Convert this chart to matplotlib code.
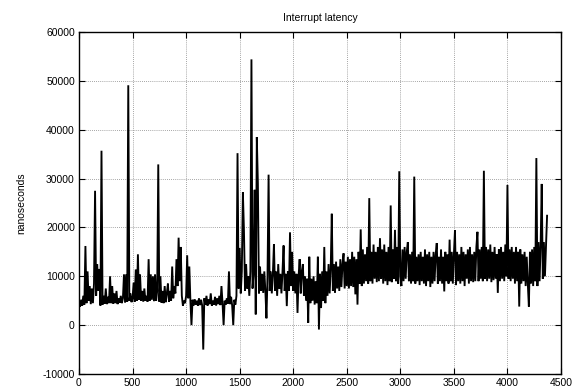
import numpy as np
import matplotlib
matplotlib.use("Agg")
import matplotlib.pyplot as plt

# latency samples (thousands of ns), one every 10 samples
seg_a = [4.5, 3.8, 5.2, 4.0, 6.0, 4.2, 16.2, 4.5, 11.0, 5.0,
         8.0, 4.3, 7.5, 4.5, 8.5, 27.5, 6.0, 12.5, 7.0, 11.5,
         4.0, 35.7, 4.2, 6.0, 4.4, 7.5, 4.3, 5.8, 4.5, 10.0,
         4.5, 8.0, 4.4, 6.5, 4.5, 7.0, 4.3, 5.5, 4.6, 6.0,
         4.5, 5.5, 10.4, 4.6, 10.4, 4.8, 49.1, 5.0, 6.5, 4.7]
seg_b = [5.5, 8.7, 4.8, 11.4, 5.0, 14.5, 5.2, 10.4, 5.0, 7.0,
         4.8, 7.5, 5.0, 6.0, 4.8, 13.5, 5.0, 10.4, 5.2, 10.0,
         4.9, 10.4, 5.0, 7.0, 32.9, 4.8, 10.0, 4.6, 7.0, 4.5,
         8.0, 4.7, 6.5, 8.5, 4.8, 7.0, 5.0, 12.0, 5.5, 8.0,
         6.5, 13.5, 8.0, 17.9, 9.0, 16.0, 6.0, 4.0, 5.0, 4.5]
seg_c = [6.0, 14.3, 5.5, 12.0, 5.0, 0.0, 5.2, 4.0, 5.3, 4.2,
         5.0, 4.0, 5.5, 4.1, 5.2, 4.0, -5.0, 5.5, 4.2, 6.0,
         4.0, 5.3, 4.3, 6.5, 4.0, 5.0, 4.2, 5.8, 4.0, 5.5,
         4.3, 6.0, 4.1, 8.0, 4.5, 0.0, 5.0, 4.2, 5.5, 4.4,
         11.0, 4.3, 5.8, 4.0, 0.0, 5.2, 4.2, 6.0, 35.2, 7.5]
seg_d = [15.8, 6.5, 11.0, 27.2, 19.4, 7.0, 12.5, 7.5, 10.0, 6.0,
         11.0, 54.4, 7.5, 10.5, 27.7, 2.2, 38.5, 29.0, 6.5, 12.0,
         7.0, 10.5, 6.6, 11.0, 7.0, 1.4, 10.0, 30.8, 7.0, 11.0,
         6.5, 10.5, 16.6, 7.0, 11.0, 6.0, 12.5, 7.5, 10.5, 6.5,
         11.0, 16.3, 7.0, 10.5, 3.9, 11.0, 7.0, 19.0, 8.0, 15.0]
seg_e = [7.0, 11.0, 6.5, 10.5, 2.5, 10.0, 13.5, 6.5, 11.0, 12.5,
         6.0, 10.0, 5.0, 9.5, 0.5, 14.0, 4.5, 9.5, 5.0, 10.0,
         4.2, 9.0, 4.5, 14.0, -0.9, 10.5, 3.5, 11.0, 5.0, 16.0,
         4.5, 11.0, 6.0, 12.5, 6.5, 11.5, 22.8, 7.0, 12.5, 6.6,
         13.0, 7.5, 12.0, 7.0, 13.5, 7.8, 12.5, 14.7, 7.5, 13.0]
seg_f = [8.0, 14.0, 7.5, 13.5, 8.0, 15.0, 7.8, 14.0, 6.3, 13.5,
         4.2, 15.0, 8.5, 19.6, 8.0, 15.5, 8.5, 14.5, 9.0, 16.0,
         8.5, 26.0, 9.0, 15.0, 8.5, 16.5, 9.5, 15.0, 8.8, 16.0,
         9.0, 17.8, 9.5, 15.5, 8.5, 16.5, 9.0, 15.0, 8.2, 16.0,
         9.0, 24.5, 8.8, 15.5, 9.5, 19.5, 9.0, 16.0, 8.5, 31.5]
seg_g = [10.0, 8.0, 15.5, 9.0, 16.0, 9.5, 15.0, 17.0, 9.0, 14.5,
         8.5, 15.0, 9.0, 30.4, 8.5, 14.0, 9.0, 14.5, 8.2, 15.0,
         9.0, 14.0, 8.5, 15.5, 8.0, 14.5, 9.0, 15.0, 7.8, 14.0,
         8.5, 15.0, 9.0, 14.5, 16.8, 8.5, 14.0, 9.0, 15.5, 8.5,
         14.0, 6.9, 15.0, 9.0, 14.5, 8.5, 17.5, 9.0, 15.0, 8.5]
seg_h = [14.5, 19.4, 8.2, 15.0, 9.0, 14.5, 8.5, 16.0, 9.0, 15.0,
         8.0, 14.5, 9.5, 15.5, 8.5, 16.0, 9.0, 14.5, 8.8, 15.0,
         9.0, 16.0, 19.1, 9.0, 15.5, 9.5, 16.0, 9.0, 31.6, 9.5,
         16.0, 9.0, 15.5, 9.5, 16.5, 8.8, 15.0, 9.2, 16.0, 9.5,
         14.5, 6.6, 15.5, 9.0, 16.0, 9.5, 15.0, 9.0, 16.5, 10.0]
seg_i = [28.7, 9.5, 15.5, 9.0, 16.0, 9.5, 15.0, 8.5, 16.0, 9.0,
         15.0, 3.8, 15.5, 8.5, 14.5, 9.0, 15.0, 8.0, 14.0, 8.5,
         3.8, 15.0, 8.5, 15.5, 8.0, 16.0, 9.0, 34.2, 8.0, 17.0,
         9.0, 16.5, 28.9, 9.5, 17.0, 10.0, 16.5, 22.4]

x_ticks = [0, 500, 1000, 1500, 2000, 2500, 3000, 3500, 4000, 4500]
y_ticks = [-10000, 0, 10000, 20000, 30000, 40000, 50000, 60000]
sample_step = 10

latency = np.array(seg_a + seg_b + seg_c + seg_d + seg_e + seg_f + seg_g + seg_h + seg_i) * 1000.0
sample = np.arange(len(latency)) * sample_step

plt.rcParams['font.family'] = ['Liberation Sans', 'DejaVu Sans']
fig = plt.figure(figsize=(5.74, 3.89), dpi=100)
ax = fig.add_axes([79/574, 1 - 374/389, (561 - 79)/574, (374 - 32)/389])

ax.plot(sample, latency, color='black', lw=1.35, solid_joinstyle='miter')

ax.set_xlim(0, 4500)
ax.set_ylim(-10000, 60000)
ax.set_xticks(x_ticks)
ax.set_yticks(y_ticks)
ax.set_xticklabels([str(t) for t in x_ticks], fontsize=7.5)
ax.set_yticklabels([str(t) for t in y_ticks], fontsize=7.5)
ax.tick_params(direction='in', length=4, width=0.8, top=True, right=True,
               labelsize=7.5, pad=3)
ax.grid(True, color='#888888', linestyle=(0, (1, 1.5)), linewidth=0.6)
for s in ax.spines.values():
    s.set_linewidth(1.0)
ax.set_title('Interrupt latency', fontsize=7.5, pad=8)
ax.set_ylabel('nanoseconds', fontsize=7.5, labelpad=12)

fig.savefig('out.png', dpi=100)
